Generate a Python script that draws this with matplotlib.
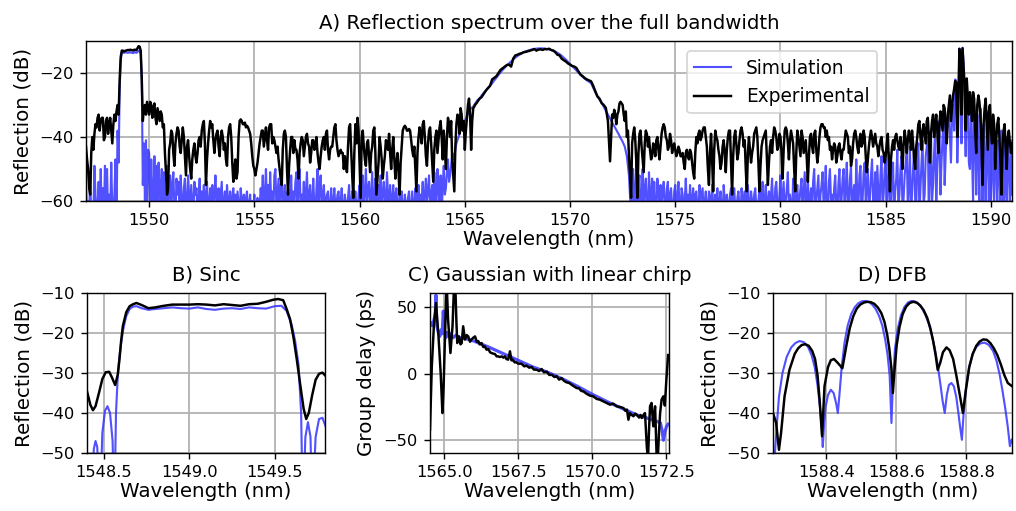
import numpy as np
import matplotlib
matplotlib.use("Agg")
import matplotlib.pyplot as plt

plt.rcParams['font.family'] = ['DejaVu Sans']

# ---------------- Panel A data: one row per nm starting at 1547 nm ----------------
# (each row covers exactly 1 nm, samples evenly spread over that nm)
top_start = 1547

exp_top_rows = [
    [-43, -47, -50, -56, -58, -45, -40, -44, -39, -36, -37, -34, -33, -38, -35, -34, -34, -41, -40, -35],  # 1547
    [-34, -39, -36, -34, -38, -42, -36, -33, -35, -32, -30, -33, -22, -15, -13, -13, -13.3, -13.1, -13, -12.9],  # 1548
    [-12.8, -12.9, -12.7, -12.8, -12.9, -12.9, -12.7, -12.8, -12.8, -12.2, -11.6, -11.8, -13, -22, -35, -31, -30, -33, -29, -31],  # 1549
    [-33, -29, -30, -34, -31, -29.5, -34, -36, -31, -33, -35, -32, -33, -37, -36, -45, -51, -58, -56, -44],  # 1550
    [-42, -38, -39, -45, -49, -42, -39, -37, -38, -43, -45, -41, -37, -40, -46, -52, -43, -41, -46, -50],  # 1551
    [-53, -47, -44, -42, -46, -48, -45, -41, -40, -43, -38, -36, -35, -42, -55, -47, -42, -38, -35, -37],  # 1552
    [-36, -41, -45, -41, -39, -38, -43, -46, -40, -38, -40, -44, -42, -47, -49, -40, -37, -36, -40, -48],  # 1553
    [-54, -50, -47, -53, -51, -40, -35, -34.5, -35, -36, -36, -35.5, -37, -36.5, -37, -38, -39, -42, -46, -49],  # 1554
    [-50, -52, -50, -48, -45, -42, -40, -38, -38, -43, -40, -37, -41, -44, -37, -36, -36, -42, -40, -41],  # 1555
    [-43, -45, -43, -47, -50, -53, -55, -44, -39, -38, -40, -50, -58, -49, -44, -40, -40, -45, -41, -44],  # 1556
    [-44, -47, -53, -45, -42, -40, -41, -46, -43, -40, -39, -42, -43, -48, -45, -41, -41, -44, -43, -40],  # 1557
    [-45, -48, -50, -46, -43, -41, -40, -44, -39, -38, -44, -47, -44, -43, -43, -40, -37, -36, -41, -44],  # 1558
    [-46, -45, -44, -45, -45, -50, -46, -49, -51, -43, -37, -36, -44, -52, -59, -45, -36, -42, -34, -38],  # 1559
    [-48, -59, -40, -38, -43, -47, -49, -42, -41, -46, -51, -45, -43, -38, -37, -45, -58, -53, -48, -40],  # 1560
    [-43, -47, -53, -49, -46, -41, -42, -44, -39, -45, -50, -44, -40, -47, -53, -48, -45, -51, -58, -48],  # 1561
    [-43, -38, -37, -36.5, -37, -38, -38, -37.5, -38, -41, -44, -46, -43, -50, -57, -45, -40, -37, -39, -42],  # 1562
    [-36, -35, -40, -46, -49, -42, -38, -37, -42, -48, -54, -44, -40, -38, -45, -41, -37, -35, -40, -47],  # 1563
    [-38, -44, -50, -40, -34, -36, -40, -35, -47, -52, -57, -43, -36, -33, -34, -39, -31, -33, -38, -35],  # 1564
    [-44, -38, -34, -30, -28, -33, -44, -35, -31, -30.5, -29.8, -29.5, -29, -28.5, -28, -27.8, -27.5, -27, -26.5, -26],  # 1565
    [-25.5, -24.7, -24, -22, -21.5, -21, -20, -19, -18.5, -18],  # 1566
    [-17.5, -17.4, -18, -15.5, -14.5, -14.3, -14, -13.8, -13.5, -13.4],  # 1567
    [-13.2, -13, -12.8, -12.5, -13, -12.7, -12.6, -12.8, -12.5, -12.6],  # 1568
    [-12.4, -12.8, -13, -13.5, -14.3, -14.5, -15.5, -16, -16.4, -17],  # 1569
    [-17.4, -17.8, -18, -18.4, -19.5, -20.5, -21, -21.6, -22, -22.3],  # 1570
    [-22.6, -24, -25.7, -27.3, -28, -29.4, -30, -30.9, -35, -47.6],  # 1571
    [-33, -34, -31.5, -33, -36, -33, -32, -29.5, -29, -29.5, -30, -33, -35, -32, -40, -38, -46, -52, -59, -42],  # 1572
    [-39, -37, -41, -48, -59, -45, -39, -38, -43, -47, -51, -42, -38, -39, -43, -40, -44, -47, -46, -42],  # 1573
    [-43, -46, -41, -40, -44, -47, -43, -39, -37, -36, -37, -40, -41, -44, -43, -39, -41, -45, -43, -42],  # 1574
    [-44, -46, -45, -43, -44, -46, -46, -45, -48, -50, -45, -44, -46, -47, -44, -45, -48, -51, -53, -45],  # 1575
    [-40, -42, -39, -38, -41, -40, -38, -37, -37, -40, -43, -50, -55, -45, -39, -47, -57, -44, -38, -40],  # 1576
    [-41, -44, -46, -50, -48, -43, -41, -45, -51, -44, -40, -38, -38, -48, -58, -46, -40, -38, -42, -47],  # 1577
    [-45, -41, -38, -37, -39, -43, -41, -50, -57, -45, -40, -44, -48, -45, -43, -39, -38, -37, -40, -48],  # 1578
    [-57, -49, -43, -41, -40, -39, -38, -46, -55, -48, -43, -41, -45, -40, -37, -38, -40, -44, -43, -39],  # 1579
    [-40, -45, -53, -44, -38, -37, -38, -42, -47, -41, -38, -40, -42, -50, -57, -45, -38, -40, -43, -46],  # 1580
    [-38, -40, -45, -43, -41, -47, -54, -46, -40, -39, -43, -45, -39, -38, -44, -48, -45, -40, -37, -36],  # 1581
    [-36, -37, -37, -40, -38, -41, -40, -44, -43, -47, -44, -42, -43, -48, -46, -43, -42, -45, -47, -44],  # 1582
    [-44, -41, -38, -39, -40, -45, -43, -49, -47, -42, -39, -38, -40, -43, -45, -41, -39, -43, -42, -38],  # 1583
    [-40, -46, -51, -47, -43, -40, -38, -40, -43, -41, -39, -42, -43, -46, -43, -41, -40, -44, -45, -48],  # 1584
    [-46, -42, -39, -48, -57, -47, -43, -41, -44, -40, -39, -41, -43, -44, -40, -44, -50, -42, -38, -41],  # 1585
    [-45, -41, -38, -40, -44, -38, -42, -47, -50, -43, -40, -36, -35, -40, -44, -38, -36, -39, -42, -35],  # 1586
    [-34, -40, -48, -39, -35, -33, -40, -36, -33, -38, -45, -36, -32, -35, -38, -30, -31, -37, -42, -33],  # 1587
    [-30, -27, -35, -31, -27, -25, -22.5, -23, -40, -28, -12.5, -14, -33, -12.3, -18, -24, -38, -21.7, -28, -33],  # 1588
    [-26, -30, -35, -26, -28, -38, -45, -30, -27, -29, -33, -42, -55, -36, -31, -28, -36, -44, -32, -30],  # 1589
    [-38, -42, -33, -36, -50, -41, -36, -34, -40, -47, -58, -43, -38, -36, -44, -50, -40, -38, -42, -45],  # 1590
    [-42],  # 1591
]

sim_top_rows = [
    [-55, -65, -60, -65, -52, -65, -62, -65, -49, -58, -65, -62, -54, -65, -50, -65, -56, -65, -49, -65],  # 1547
    [-50, -65, -58, -65, -48, -63, -65, -58, -47, -65, -38, -48, -25, -16, -13.8, -13.6, -13.7, -13.5, -13.6, -13.6],  # 1548
    [-13.7, -13.6, -13.5, -13.7, -13.6, -13.8, -13.4, -13.6, -13.7, -13.4, -13.0, -13.3, -14, -22, -55, -42, -60, -41, -62, -44],  # 1549
    [-45, -62, -47, -58, -65, -46, -60, -49, -65, -48, -55, -65, -50, -60, -51, -65, -62, -49, -65, -53],  # 1550
    [-52, -65, -55, -51, -62, -65, -53, -58, -54, -65, -52, -60, -65, -56, -53, -65, -61, -52, -58, -65],  # 1551
    [-55, -60, -65, -54, -58, -56, -65, -60, -53, -65, -57, -62, -55, -65, -58, -54, -65, -61, -56, -60],  # 1552
    [-55, -65, -58, -52, -60, -65, -56, -62, -58, -54, -65, -60, -57, -65, -55, -60, -62, -57, -65, -59],  # 1553
    [-56, -62, -58, -65, -57, -61, -65, -56, -60, -62, -58, -65, -59, -57, -65, -61, -58, -65, -60, -62],  # 1554
    [-58, -65, -61, -59, -65, -62, -56, -60, -52, -65, -58, -50, -62, -55, -65, -51, -60, -57, -65, -52],  # 1555
    [-50, -63, -58, -53, -65, -56, -51, -62, -60, -55, -65, -58, -56, -65, -61, -52, -65, -57, -62, -54],  # 1556
    [-51, -65, -55, -50, -62, -58, -61, -54, -65, -57, -51, -63, -58, -55, -65, -60, -53, -62, -65, -56],  # 1557
    [-50, -62, -55, -52, -65, -58, -55, -61, -60, -58, -57, -65, -62, -56, -65, -60, -56, -62, -61, -58],  # 1558
    [-57, -65, -60, -56, -62, -65, -58, -61, -65, -59, -55, -63, -61, -57, -65, -60, -57, -62, -65, -58],  # 1559
    [-55, -62, -58, -52, -65, -57, -50, -60, -56, -54, -65, -58, -51, -62, -60, -53, -65, -58, -55, -61],  # 1560
    [-52, -65, -57, -54, -60, -62, -51, -58, -65, -55, -62, -60, -55, -65, -58, -56, -62, -65, -57, -60],  # 1561
    [-57, -62, -65, -58, -61, -65, -59, -57, -65, -62, -57, -61, -65, -56, -60, -62, -55, -65, -58, -60],  # 1562
    [-54, -65, -58, -53, -60, -57, -52, -63, -58, -55, -65, -51, -58, -62, -50, -57, -60, -52, -65, -55],  # 1563
    [-49, -58, -56, -51, -47, -54, -52, -49, -45, -47, -46, -44, -42, -41, -40, -39, -38, -37, -36, -35.5],  # 1564
    [-35, -33.5, -32, -31, -30.5, -29.5, -28.5, -28, -27, -26.2],  # 1565
    [-25.5, -24.8, -24, -23.2, -22.3, -21.5, -20.6, -19.8, -19, -18.3],  # 1566
    [-17.6, -17, -16.4, -15.8, -15.2, -14.7, -14.3, -13.9, -13.5, -13.2],  # 1567
    [-13, -12.8, -12.6, -12.5, -12.4, -12.3, -12.3, -12.3, -12.4, -12.5],  # 1568
    [-12.6, -12.8, -13, -13.3, -13.7, -14.1, -14.6, -15.2, -15.8, -16.5],  # 1569
    [-17.2, -17.8, -18.5, -19.2, -19.9, -20.6, -21.2, -21.8, -22.3, -22.7],  # 1570
    [-23.2, -24.6, -26, -27.3, -28.3, -29.3, -30.5, -31.8, -33, -34.2],  # 1571
    [-35.4, -36.6, -37.8, -39, -40.3, -41.5, -43, -46, -52, -65],  # 1572
    [-50, -65, -58, -48, -62, -55, -52, -65, -60, -50, -65, -56, -53, -61, -65, -51, -58, -62, -53, -65],  # 1573
    [-54, -62, -65, -53, -58, -60, -55, -65, -57, -54, -60, -65, -56, -54, -65, -58, -56, -62, -65, -57],  # 1574
    [-55, -65, -59, -54, -61, -65, -56, -58, -65, -60, -53, -62, -58, -65, -55, -60, -62, -56, -65, -58],  # 1575
    [-57, -62, -65, -55, -60, -58, -56, -65, -60, -57, -62, -65, -57, -59, -65, -55, -61, -64, -58, -62],  # 1576
    [-56, -65, -60, -57, -62, -65, -55, -60, -63, -58, -65, -61, -58, -56, -65, -60, -56, -62, -65, -59],  # 1577
    [-57, -62, -65, -56, -60, -62, -57, -65, -59, -55, -61, -65, -57, -60, -65, -58, -56, -62, -65, -60],  # 1578
    [-56, -65, -59, -54, -61, -62, -55, -65, -60, -57, -65, -58, -53, -62, -65, -56, -54, -61, -65, -58],  # 1579
    [-52, -62, -58, -54, -65, -60, -56, -51, -63, -58, -61, -65, -53, -59, -65, -57, -55, -62, -60, -56],  # 1580
    [-53, -65, -58, -51, -60, -62, -52, -65, -59, -56, -65, -54, -50, -61, -60, -56, -52, -65, -58, -55],  # 1581
    [-51, -62, -58, -49, -63, -65, -54, -50, -60, -58, -65, -56, -52, -61, -65, -55, -50, -62, -60, -53],  # 1582
    [-50, -65, -56, -48, -60, -62, -53, -49, -65, -58, -55, -65, -47, -59, -62, -52, -49, -65, -60, -51],  # 1583
    [-48, -61, -55, -50, -65, -59, -52, -47, -60, -62, -51, -65, -49, -57, -65, -52, -46, -62, -58, -50],  # 1584
    [-47, -65, -56, -45, -60, -62, -51, -48, -65, -57, -53, -44, -62, -58, -50, -46, -65, -59, -52, -48],  # 1585
    [-45, -62, -55, -43, -65, -58, -50, -44, -60, -62, -47, -42, -65, -56, -48, -41, -61, -58, -46, -43],  # 1586
    [-40, -65, -52, -38, -60, -55, -45, -37, -62, -50, -42, -35, -58, -48, -40, -34, -55, -45, -38, -36],  # 1587
    [-32, -40, -48, -33, -30, -38, -22, -22.5, -48, -36, -12.3, -15.4, -42, -12.1, -17, -33, -46, -22.5, -30, -48],  # 1588
    [-50, -27, -45, -60, -30, -38, -58, -33, -44, -62, -31, -40, -60, -36, -48, -62, -34, -45, -60, -38],  # 1589
    [-62, -39, -50, -60, -40, -47, -65, -41, -52, -60, -38, -48, -62, -42, -55, -60, -40, -50, -62, -41],  # 1590
    [-58],  # 1591
]

# ---------------- Panel B data (Sinc) ----------------
exp_b_wl = [1548.40, 1548.42, 1548.435, 1548.45, 1548.47, 1548.49, 1548.51, 1548.53,
            1548.545, 1548.565, 1548.58, 1548.59, 1548.60, 1548.61, 1548.63, 1548.65,
            1548.67, 1548.69, 1548.72, 1548.76, 1548.80, 1548.85, 1548.90, 1548.95,
            1549.00, 1549.05, 1549.10, 1549.15, 1549.20, 1549.25, 1549.30, 1549.35,
            1549.40, 1549.45, 1549.49, 1549.52, 1549.55, 1549.57, 1549.59, 1549.61,
            1549.63, 1549.65, 1549.67, 1549.685, 1549.70, 1549.72, 1549.74, 1549.76,
            1549.78, 1549.80]
exp_b = [-34.6, -38, -39.3, -38.3, -35, -31.5, -29.8, -29.7,
         -31, -33, -30.5, -26.7, -22, -18.3, -14.8, -13.3,
         -12.8, -12.5, -13, -13.8, -13.6, -13.2, -12.9, -12.9,
         -12.9, -12.8, -12.9, -13.1, -12.8, -13, -13.2, -12.8,
         -12.7, -12.2, -11.7, -11.5, -11.8, -14, -16.5, -21,
         -26.7, -33, -39, -41.5, -40, -35.5, -31.7, -30.2,
         -29.9, -30.8]

sim_b_wl = [1548.425, 1548.44, 1548.45, 1548.46, 1548.475, 1548.49, 1548.505, 1548.52,
            1548.535, 1548.55, 1548.56, 1548.57, 1548.58, 1548.59, 1548.60, 1548.615,
            1548.63, 1548.65, 1548.67, 1548.69, 1548.72, 1548.76, 1548.80, 1548.85,
            1548.90, 1548.95, 1549.00, 1549.05, 1549.10, 1549.15, 1549.20, 1549.25,
            1549.30, 1549.35, 1549.40, 1549.45, 1549.50, 1549.54, 1549.57, 1549.60,
            1549.62, 1549.64, 1549.655, 1549.665, 1549.68, 1549.695, 1549.71, 1549.72,
            1549.74, 1549.76, 1549.78, 1549.80]
sim_b = [-65, -49, -47, -48.5, -65, -45, -39.5, -38.3,
         -40, -47, -65, -40, -31, -26, -22.5, -18.5,
         -15.8, -14, -13.4, -13.3, -13.8, -14.2, -14, -13.8,
         -13.6, -13.8, -13.9, -13.6, -14, -14.2, -13.9, -13.8,
         -14, -13.6, -13.8, -13.9, -13.3, -13.2, -14.5, -18,
         -22, -28, -40, -65, -46, -42.3, -46, -65,
         -46, -41.5, -41.2, -43.5]

# ---------------- Panel C data (group delay) ----------------
sim_c_wl = [1564.55, 1564.60, 1564.65, 1564.70, 1564.72, 1564.75, 1564.80, 1564.85,
            1564.90, 1564.93, 1564.97, 1565.00, 1565.05, 1565.10, 1565.15, 1565.20,
            1565.30, 1565.40, 1565.50, 1565.70, 1566.00, 1566.50, 1567.00, 1567.50,
            1568.00, 1568.50, 1569.00, 1569.50, 1570.00, 1570.50, 1571.00, 1571.50,
            1571.80, 1572.00, 1572.20, 1572.30, 1572.35, 1572.40, 1572.45, 1572.50,
            1572.56]
sim_c = [38, 36, 40, 45, 59, 36, 31, 28,
         33, 30, 47, 32, 27, 31, 28, 30,
         27, 29, 27, 26.5, 24.5, 20, 15, 10,
         5, 1, -4, -9.5, -15.5, -21, -26, -31,
         -33, -34.5, -36, -37, -42, -50, -44, -40,
         -38]

exp_c_wl = [1564.52, 1564.58, 1564.65, 1564.72, 1564.80, 1564.88, 1564.94, 1564.98,
            1565.02, 1565.06, 1565.08, 1565.13, 1565.21, 1565.28, 1565.33, 1565.37,
            1565.41, 1565.44, 1565.50, 1565.55, 1565.59, 1565.64, 1565.70, 1565.76,
            1565.81, 1565.87, 1565.92, 1565.98, 1566.04, 1566.10, 1566.15, 1566.20,
            1566.26, 1566.32, 1566.37, 1566.43, 1566.49, 1566.55, 1566.60, 1566.66,
            1566.71, 1566.77, 1566.82, 1566.88, 1566.94, 1567.00, 1567.05, 1567.10,
            1567.16, 1567.22, 1567.27, 1567.31, 1567.38, 1567.44, 1567.50, 1567.61,
            1567.70, 1567.78, 1567.87, 1567.95, 1568.03, 1568.12, 1568.20, 1568.29,
            1568.37, 1568.46, 1568.55, 1568.63, 1568.72, 1568.80, 1568.88, 1568.96,
            1569.05, 1569.13, 1569.22, 1569.30, 1569.38, 1569.47, 1569.55, 1569.63,
            1569.70, 1569.80, 1569.92, 1570.03, 1570.15, 1570.25, 1570.37, 1570.48,
            1570.60, 1570.70, 1570.82, 1570.93, 1571.05, 1571.12, 1571.17, 1571.22,
            1571.27, 1571.33, 1571.39, 1571.45, 1571.50, 1571.58, 1571.63, 1571.67,
            1571.73, 1571.78, 1571.84, 1571.88, 1571.92, 1571.95, 1572.00, 1572.06,
            1572.12, 1572.17, 1572.21, 1572.25, 1572.29, 1572.34, 1572.40, 1572.45,
            1572.50, 1572.56]
exp_c = [-42, 5, 35.6, 53, 30.6, 0.5, -29.6, -9.5,
         23, 55, 70, 40.6, 15.5, 35.6, 65, 70,
         40, 23, 28, 22, 23, 35.6, 25.6, 29,
         28, 24, 25.6, 27, 28, 24, 24.5, 22,
         23, 20, 20.5, 18, 18.5, 16, 15.5, 15,
         14.8, 13, 13, 12.5, 13, 12, 13, 11,
         10.5, 16.8, 10, 10.5, 8.5, 8.5, 7.5, 7.5,
         5.5, 6, 4.5, 5, 3, 3, 2, 3.5,
         1, 1.5, -1, -0.8, -2.5, -2, -4.5, -3.3,
         -5.5, -6.5, -7, -8.3, -9.5, -10.8, -11, -13,
         -13.3, -15, -16.5, -17, -19, -19.5, -20.8, -22,
         -23.3, -22.5, -24.5, -25, -25.8, -28, -27, -34.6,
         -29.6, -31, -32, -30, -30.8, -33, -31, -33.3,
         -31, -29.6, -54.6, -65, -40, -24.5, -22, -39.6,
         -24.5, -60, -65, -45, -29.6, -19.5, -17, -24,
         -5, 14]

# ---------------- Panel D data (DFB) ----------------
exp_d_wl = [1588.248, 1588.257, 1588.265, 1588.271, 1588.281, 1588.295, 1588.310, 1588.320,
            1588.330, 1588.340, 1588.350, 1588.360, 1588.368, 1588.375, 1588.381, 1588.388,
            1588.395, 1588.405, 1588.413, 1588.422, 1588.433, 1588.446, 1588.457, 1588.467,
            1588.477, 1588.487, 1588.497, 1588.507, 1588.517, 1588.527, 1588.537, 1588.547,
            1588.557, 1588.566, 1588.574, 1588.580, 1588.586, 1588.590, 1588.595, 1588.601,
            1588.609, 1588.618, 1588.628, 1588.638, 1588.648, 1588.658, 1588.668, 1588.678,
            1588.688, 1588.697, 1588.705, 1588.712, 1588.718, 1588.725, 1588.733, 1588.743,
            1588.752, 1588.762, 1588.772, 1588.781, 1588.790, 1588.798, 1588.808, 1588.818,
            1588.828, 1588.838, 1588.848, 1588.858, 1588.868, 1588.878, 1588.888, 1588.898,
            1588.908, 1588.918, 1588.930]
exp_d = [-40, -42.5, -49.2, -45, -35.8, -29.2, -25.2, -23.8,
         -23.0, -22.8, -23.2, -24.5, -26.5, -30.5, -36.7, -45.8,
         -33.3, -28.5, -26.8, -26.5, -27.5, -28.8, -23.3, -18.8,
         -15.8, -13.9, -12.9, -12.4, -12.2, -12.3, -12.7, -13.6,
         -15.0, -17.2, -20.5, -24, -29, -35, -29, -23,
         -18.5, -15.3, -13.4, -12.5, -12.2, -12.4, -13.1, -14.3,
         -16.2, -18.8, -22, -25.5, -29.2, -27.5, -24.8, -23.6,
         -24.3, -26.5, -31, -35.5, -40, -34.5, -28.5, -25.2,
         -23.2, -22.1, -21.6, -21.7, -22.5, -23.8, -25.5, -27.8,
         -30.5, -32.5, -33.3]

sim_d_wl = [1588.252, 1588.258, 1588.265, 1588.275, 1588.287, 1588.300, 1588.312, 1588.324,
            1588.336, 1588.348, 1588.358, 1588.367, 1588.375, 1588.382, 1588.388, 1588.390,
            1588.393, 1588.398, 1588.405, 1588.413, 1588.421, 1588.428, 1588.433, 1588.438,
            1588.444, 1588.452, 1588.461, 1588.471, 1588.481, 1588.491, 1588.501, 1588.511,
            1588.521, 1588.531, 1588.541, 1588.551, 1588.560, 1588.568, 1588.575, 1588.581,
            1588.586, 1588.590, 1588.596, 1588.604, 1588.613, 1588.623, 1588.633, 1588.643,
            1588.653, 1588.663, 1588.673, 1588.683, 1588.693, 1588.702, 1588.710, 1588.718,
            1588.726, 1588.732, 1588.738, 1588.744, 1588.750, 1588.757, 1588.764, 1588.771,
            1588.777, 1588.782, 1588.787, 1588.792, 1588.799, 1588.808, 1588.818, 1588.828,
            1588.840, 1588.852, 1588.864, 1588.876, 1588.886, 1588.895, 1588.903, 1588.911,
            1588.918, 1588.924, 1588.929]
sim_d = [-52, -44, -36, -30, -26, -23.6, -22.5, -22.0,
         -22.3, -23.5, -25.5, -28.5, -33, -38.5, -45, -48.5,
         -44, -38.5, -35.5, -34.2, -35, -37.5, -40, -35,
         -28.5, -22.5, -18.2, -15.3, -13.6, -12.6, -12.1, -12.0,
         -12.2, -12.9, -14, -15.8, -18.2, -21.5, -25.5, -30.8,
         -42.5, -33, -24, -19, -15.6, -13.5, -12.4, -12.0,
         -12.1, -12.7, -13.8, -15.5, -17.8, -20.8, -24, -28,
         -33, -37, -40, -35.5, -33, -32.5, -33.3, -36,
         -40, -43.5, -46.7, -40, -33.5, -28.5, -25.2, -23.5,
         -22.6, -22.4, -23, -24.5, -27, -30.5, -34.5, -39,
         -43.5, -48.3, -46.7]

# ---------------- Styling ----------------
SIM_COLOR = '#3333ff'
SIM_ALPHA = 0.85
SIM_LW = 1.2
EXP_COLOR = 'black'
EXP_LW = 1.4
TICK_FS = 9.2
LABEL_FS = 11.3
TITLE_FS = 11.2
LEGEND_FS = 10.5


def rows_to_series(rows, start):
    wl, val = [], []
    for i, r in enumerate(rows):
        n = len(r)
        wl.extend(start + i + np.arange(n) / n)
        val.extend(r)
    return np.array(wl), np.array(val, float)


wl_top_exp, exp_top = rows_to_series(exp_top_rows, top_start)
wl_top_sim, sim_top = rows_to_series(sim_top_rows, top_start)

W, H = 1016, 511
fig = plt.figure(figsize=(W / 127, H / 127), dpi=127)


def ax_px(left, right, top, bottom):
    return fig.add_axes([left / W, 1 - bottom / H, (right - left) / W, (bottom - top) / H])


axA = ax_px(86, 1012, 41, 201)
axB = ax_px(87, 325, 293, 453)
axC = ax_px(430, 669, 293, 453)
axD = ax_px(773, 1012, 293, 453)

for ax in (axA, axB, axC, axD):
    ax.grid(True, color='#b0b0b0', linewidth=1.0)
    ax.set_axisbelow(True)
    ax.tick_params(labelsize=TICK_FS)

# Panel A
axA.plot(wl_top_sim, sim_top, color=SIM_COLOR, alpha=SIM_ALPHA, lw=SIM_LW, label='Simulation')
axA.plot(wl_top_exp, exp_top, color=EXP_COLOR, lw=EXP_LW, label='Experimental')
axA.set_xlim(1547, 1591)
axA.set_ylim(-60, -10)
axA.set_xticks([1550, 1555, 1560, 1565, 1570, 1575, 1580, 1585, 1590])
axA.set_yticks([-60, -40, -20])
axA.set_xlabel('Wavelength (nm)', fontsize=LABEL_FS, labelpad=1)
axA.set_ylabel('Reflection (dB)', fontsize=LABEL_FS)
axA.set_title('A) Reflection spectrum over the full bandwidth', fontsize=TITLE_FS, pad=7)
axA.legend(loc='upper left', bbox_to_anchor=(0.649, 0.935), borderaxespad=0,
           fontsize=LEGEND_FS, framealpha=0.8)

# Panel B
axB.plot(sim_b_wl, sim_b, color=SIM_COLOR, alpha=SIM_ALPHA, lw=SIM_LW)
axB.plot(exp_b_wl, exp_b, color=EXP_COLOR, lw=EXP_LW)
axB.set_xlim(1548.4, 1549.795)
axB.set_ylim(-50, -10)
axB.set_xticks([1548.5, 1549.0, 1549.5])
axB.set_xticklabels(['1548.5', '1549.0', '1549.5'])
axB.set_yticks([-50, -40, -30, -20, -10])
axB.set_xlabel('Wavelength (nm)', fontsize=LABEL_FS, labelpad=1)
axB.set_ylabel('Reflection (dB)', fontsize=LABEL_FS)
axB.set_title('B) Sinc', fontsize=TITLE_FS, pad=7)

# Panel C
axC.plot(sim_c_wl, sim_c, color=SIM_COLOR, alpha=SIM_ALPHA, lw=SIM_LW + 0.6)
axC.plot(exp_c_wl, exp_c, color=EXP_COLOR, lw=EXP_LW)
axC.set_xlim(1564.52, 1572.59)
axC.set_ylim(-59.6, 60.6)
axC.set_xticks([1565.0, 1567.5, 1570.0, 1572.5])
axC.set_xticklabels(['1565.0', '1567.5', '1570.0', '1572.5'])
axC.set_yticks([-50, 0, 50])
axC.set_xlabel('Wavelength (nm)', fontsize=LABEL_FS, labelpad=1)
axC.set_ylabel('Group delay (ps)', fontsize=LABEL_FS)
axC.set_title('C) Gaussian with linear chirp', fontsize=TITLE_FS, pad=7)

# Panel D
axD.plot(sim_d_wl, sim_d, color=SIM_COLOR, alpha=SIM_ALPHA, lw=SIM_LW)
axD.plot(exp_d_wl, exp_d, color=EXP_COLOR, lw=EXP_LW)
axD.set_xlim(1588.248, 1588.93)
axD.set_ylim(-50, -10)
axD.set_xticks([1588.4, 1588.6, 1588.8])
axD.set_xticklabels(['1588.4', '1588.6', '1588.8'])
axD.set_yticks([-50, -40, -30, -20, -10])
axD.set_xlabel('Wavelength (nm)', fontsize=LABEL_FS, labelpad=1)
axD.set_ylabel('Reflection (dB)', fontsize=LABEL_FS)
axD.set_title('D) DFB', fontsize=TITLE_FS, pad=7)

fig.savefig('out.png', dpi=127)
